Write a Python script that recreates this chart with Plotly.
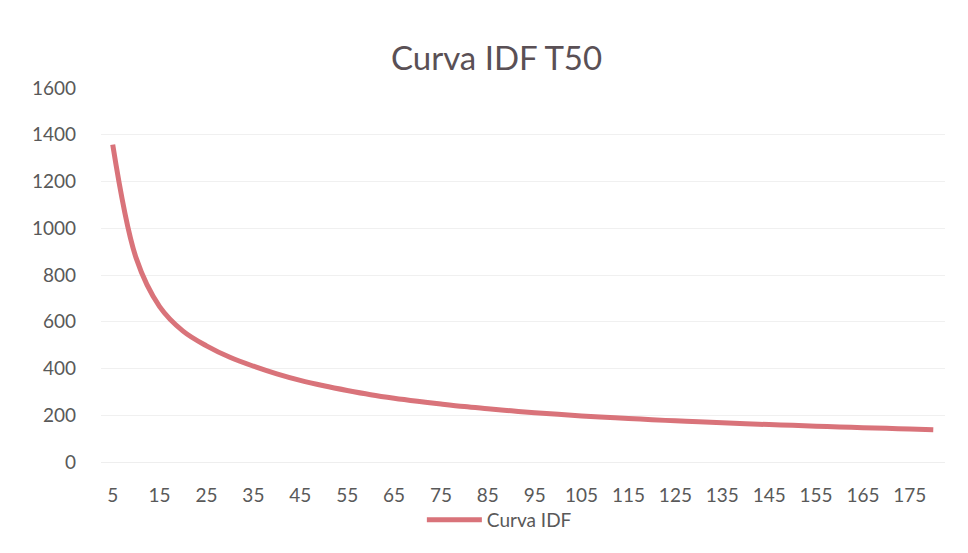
import plotly.graph_objects as go

# Duración (min) e intensidad (mm/h) para T = 50 años
duracion = [5, 10, 15, 20, 25, 30, 35, 40, 45, 50, 55, 60, 65, 70, 75, 80, 85, 90,
            95, 100, 105, 110, 115, 120, 125, 130, 135, 140, 145, 150, 155, 160,
            165, 170, 175, 180]
intensidad = [1358, 872, 665, 560, 497, 448, 410, 377, 349, 326, 306, 288, 273, 260,
              248, 237, 228, 219, 211, 204, 197, 191, 186, 181, 176, 172, 168, 164,
              160, 157, 153, 150, 147, 144, 141, 138]
categorias = [str(d) for d in duracion]
etiquetas_x = categorias[::2]
ticks_y = [0, 200, 400, 600, 800, 1000, 1200, 1400, 1600]

texto = "#595959"
fuente = "Lato"

fig = go.Figure()
fig.add_trace(go.Scatter(
    x=categorias,
    y=intensidad,
    mode="lines",
    name="Curva IDF",
    line=dict(color="#d9737a", width=5, shape="spline", smoothing=1.0),
))

fig.update_layout(
    width=968,
    height=553,
    paper_bgcolor="white",
    plot_bgcolor="white",
    margin=dict(l=101, r=23, t=88, b=91),
    title=dict(
        text="Curva IDF T50",
        x=0.513,
        xanchor="center",
        y=0.895,
        yanchor="middle",
        font=dict(family=fuente, size=33, color="#5a5055"),
    ),
    font=dict(family=fuente, size=19, color=texto),
    showlegend=True,
    legend=dict(
        orientation="h",
        x=0.472,
        xanchor="center",
        y=-0.155,
        yanchor="middle",
        bgcolor="rgba(0,0,0,0)",
        font=dict(family=fuente, size=19, color=texto),
        itemwidth=55,
    ),
    xaxis=dict(
        type="category",
        range=[-0.5, len(categorias) - 0.5],
        tickmode="array",
        tickvals=etiquetas_x,
        ticktext=etiquetas_x,
        showgrid=False,
        showline=True,
        linecolor="#eeeeee",
        linewidth=1,
        ticks="",
        ticklabelstandoff=16,
        tickfont=dict(family=fuente, size=19, color=texto),
    ),
    yaxis=dict(
        range=[0, 1600],
        tickmode="array",
        tickvals=ticks_y,
        showgrid=True,
        gridcolor="#f0f0f0",
        gridwidth=1,
        zeroline=False,
        showline=False,
        ticks="",
        ticklabelstandoff=24,
        tickfont=dict(family=fuente, size=19, color=texto),
    ),
)

fig.write_html("out.html")
